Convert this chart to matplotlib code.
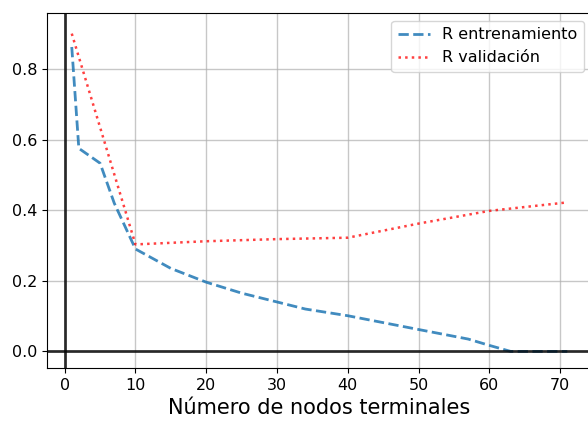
import matplotlib
matplotlib.use('Agg')
import matplotlib.pyplot as plt

# numero de nodos terminales vs R
x_train = [1, 2, 5, 7, 10, 15, 20, 25, 30, 34, 40, 50, 57, 60, 63, 71]
r_train = [0.862, 0.575, 0.533, 0.42, 0.29, 0.235, 0.196, 0.165, 0.14, 0.12, 0.101, 0.062, 0.035, 0.017, 0.0, 0.0]
x_val = [1, 10, 20, 30, 40, 50, 60, 71]
r_val = [0.90, 0.303, 0.312, 0.318, 0.322, 0.362, 0.398, 0.422]

fig = plt.figure(figsize=(5.88, 4.23), dpi=100)
ax = fig.add_axes([0.0799, 0.130, 0.927, 0.839])
ax.plot(x_train, r_train, '--', color='#1f77b4', lw=2, alpha=0.85, label='R entrenamiento')
ax.plot(x_val, r_val, ':', color='red', lw=1.8, alpha=0.75, label='R validación')
ax.axhline(0, color='k', lw=2, alpha=0.8)
ax.axvline(0, color='k', lw=2, alpha=0.8)
ax.set_xlim(-2.5, 74.5)
ax.set_ylim(-0.047, 0.958)
ax.set_xticks(range(0, 71, 10))
ax.set_yticks([0.0, 0.2, 0.4, 0.6, 0.8])
ax.tick_params(labelsize=11.5)
ax.grid(True, color='#b0b0b0', lw=1, alpha=0.7)
ax.set_xlabel('Número de nodos terminales', fontsize=15)
ax.legend(loc='upper right', fontsize=11.5)
fig.savefig('out.png', dpi=100)
